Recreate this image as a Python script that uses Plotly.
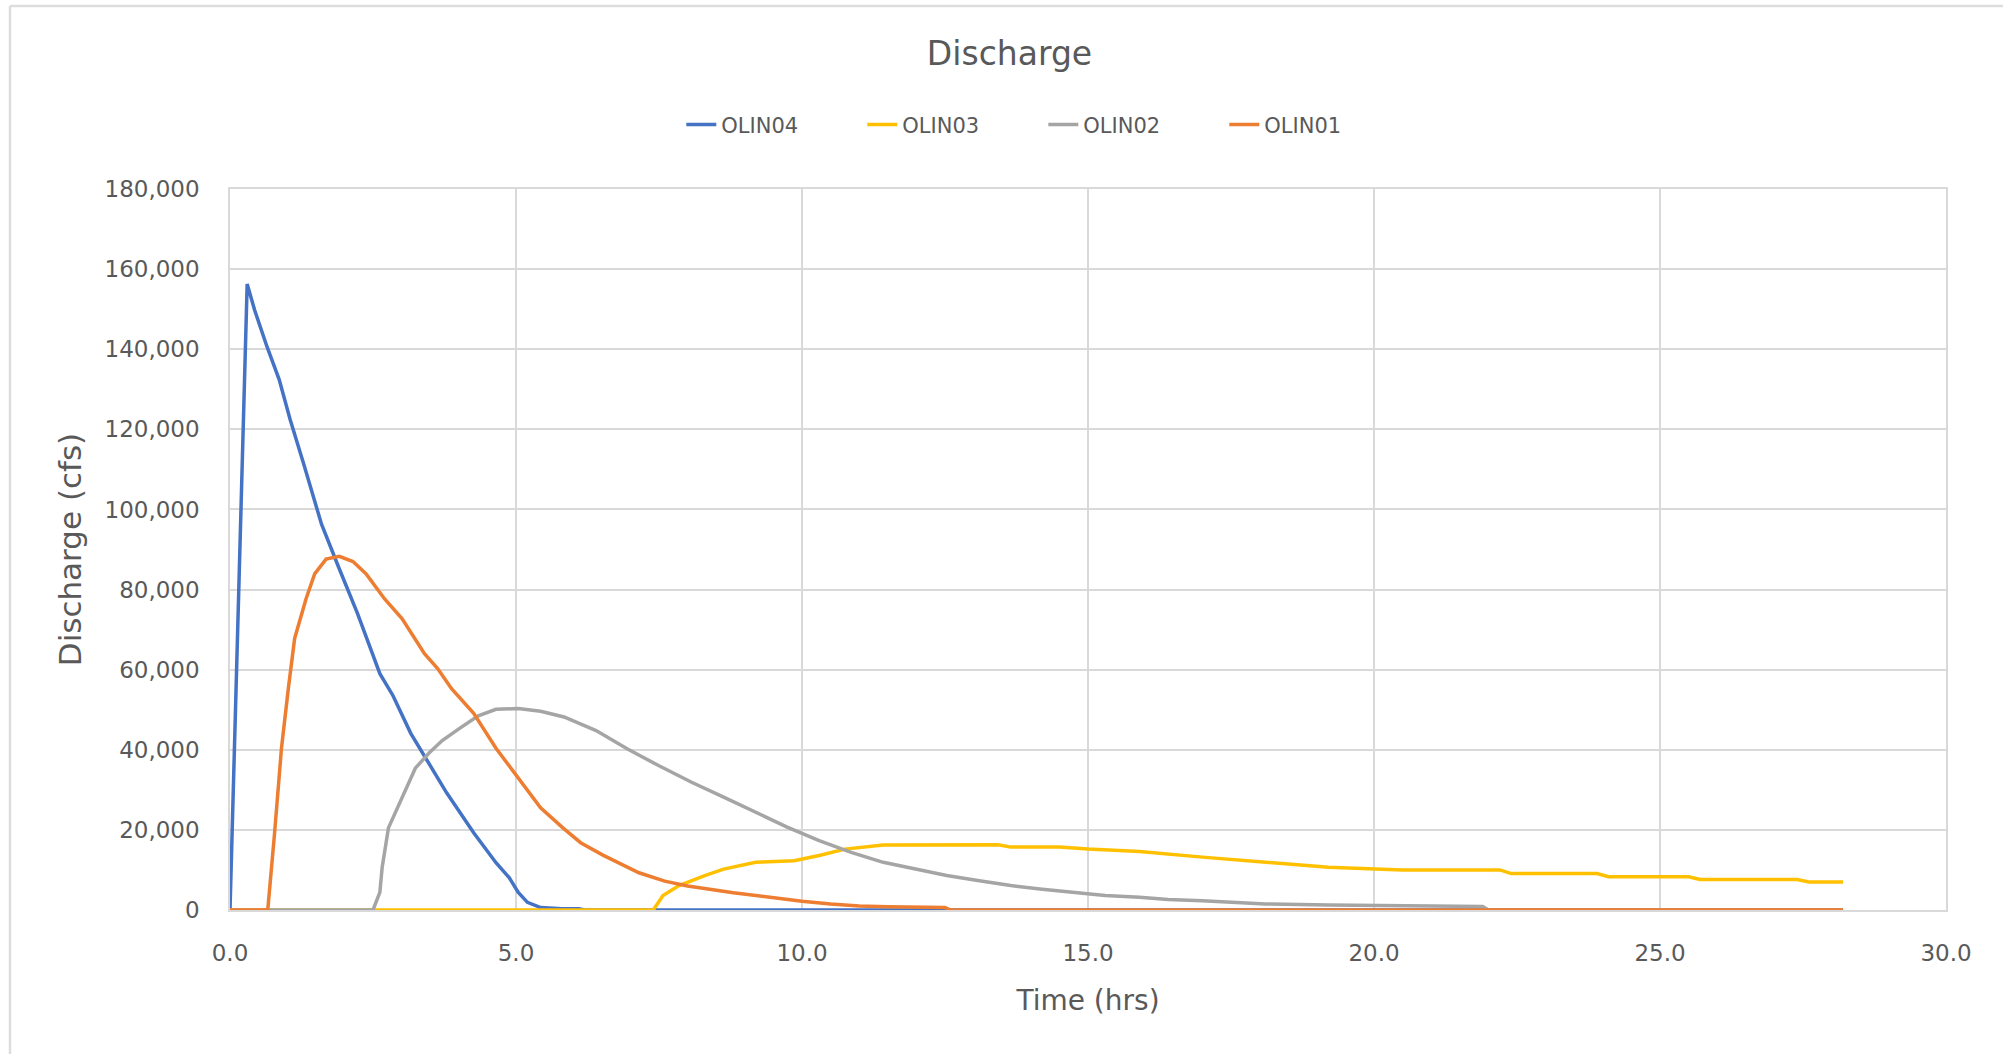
import plotly.graph_objects as go

# ---- data ----
olin04_t = [0, 0.30, 0.43, 0.65, 0.86, 1.05, 1.29, 1.60, 1.91, 2.23, 2.62, 2.85, 3.16, 3.63,
            3.79, 4.26, 4.65, 4.88, 5.04, 5.20, 5.43, 5.80, 6.10, 6.20, 28.2]
olin04_q = [0, 156300, 149800, 140500, 132400, 122500, 111300, 96300, 85200, 74000, 59000,
            53500, 44100, 33000, 29200, 19300, 11800, 8100, 4400, 1900, 600, 300, 300, 0, 0]

olin03_t = [0, 7.40, 7.57, 7.85, 8.30, 8.63, 9.19, 9.86, 10.30, 10.75, 11.42, 12.53, 13.43,
            13.65, 14.50, 15.00, 15.90, 17.00, 18.10, 19.20, 20.50, 22.20, 22.40, 23.90, 24.10,
            25.50, 25.70, 27.40, 27.60, 28.2]
olin03_q = [0, 0, 3600, 6100, 8600, 10200, 11900, 12300, 13600, 15200, 16200, 16300, 16300,
            15700, 15700, 15200, 14600, 13200, 11900, 10700, 10000, 10000, 9100, 9100, 8300,
            8300, 7600, 7600, 7000, 7000]

olin02_t = [0, 2.50, 2.62, 2.66, 2.77, 2.85, 3.05, 3.24, 3.48, 3.71, 4.02, 4.34, 4.65, 5.04,
            5.43, 5.84, 6.40, 6.95, 7.50, 8.07, 8.63, 9.19, 9.74, 10.30, 10.86, 11.42, 11.98,
            12.53, 13.10, 13.65, 14.20, 14.77, 15.30, 15.90, 16.40, 17.00, 18.10, 19.20, 20.30,
            21.90, 22.00, 28.2]
olin02_q = [0, 0, 4400, 10600, 20500, 23000, 29200, 35400, 39200, 42300, 45400, 48500, 50100,
            50300, 49600, 48200, 44800, 40200, 36000, 31900, 28200, 24400, 20700, 17300, 14400,
            11900, 10200, 8600, 7300, 6100, 5200, 4400, 3600, 3200, 2600, 2300, 1500, 1250, 1100,
            900, 0, 0]

olin01_t = [0, 0.66, 0.78, 0.90, 1.02, 1.13, 1.33, 1.48, 1.68, 1.91, 2.15, 2.38, 2.70, 3.01,
            3.40, 3.63, 3.87, 4.26, 4.65, 5.04, 5.43, 5.82, 6.13, 6.52, 7.15, 7.60, 8.00, 8.80,
            9.40, 10.00, 10.50, 11.00, 11.50, 12.50, 12.60, 28.2]
olin01_q = [0, 0, 19300, 40400, 55300, 67800, 77700, 83900, 87600, 88300, 87000, 83900, 77700,
            72700, 64000, 60300, 55300, 49100, 40400, 32900, 25500, 20500, 16800, 13700, 9300,
            7200, 6000, 4300, 3200, 2200, 1500, 1000, 800, 600, 0, 0]

series_names = ["OLIN04", "OLIN03", "OLIN02", "OLIN01"]
series_colors = ["#4472C4", "#FFC000", "#A5A5A5", "#ED7D31"]
series_t = [olin04_t, olin03_t, olin02_t, olin01_t]
series_q = [olin04_q, olin03_q, olin02_q, olin01_q]

x_ticks = [0, 5, 10, 15, 20, 25, 30]
y_ticks = [0, 20000, 40000, 60000, 80000, 100000, 120000, 140000, 160000, 180000]

TXT = "#595959"
GRID = "#D9D9D9"
FONT = "DejaVu Sans"

fig = go.Figure()
for name, color, t, q in zip(series_names, series_colors, series_t, series_q):
    fig.add_trace(go.Scatter(x=t, y=q, mode="lines", name=name,
                             line=dict(color=color, width=3.5)))

W, H = 2003, 1054
PL, PR, PT, PB = 230, 1946, 189, 910

fig.update_layout(
    width=W, height=H, autosize=False,
    margin=dict(l=PL, r=W - PR, t=PT, b=H - PB),
    paper_bgcolor="white", plot_bgcolor="white",
    font=dict(family=FONT, color=TXT),
    title=dict(text="Discharge", x=0.504, xref="container", y=0.949, yref="container",
               xanchor="center", yanchor="middle", font=dict(size=33, color=TXT, family=FONT)),
    legend=dict(orientation="h", x=0.263, y=1.089, xanchor="left", yanchor="middle",
                font=dict(size=21, color=TXT, family=FONT), entrywidth=136,
                bgcolor="rgba(0,0,0,0)"),
    showlegend=True,
)

fig.update_xaxes(
    range=[0, 30], tickvals=x_ticks, tickformat=".1f",
    showgrid=True, gridcolor=GRID, gridwidth=1.5,
    showline=True, linecolor=GRID, linewidth=1.5, mirror=True, zeroline=False,
    ticks="outside", ticklen=22, tickcolor="rgba(0,0,0,0)",
    tickfont=dict(size=23, color=TXT, family=FONT),
    title=dict(text="Time (hrs)", font=dict(size=28, color=TXT, family=FONT), standoff=25),
    automargin=False,
)
fig.update_yaxes(
    range=[0, 180000], tickvals=y_ticks, tickformat=",d",
    showgrid=True, gridcolor=GRID, gridwidth=1.5,
    showline=True, linecolor=GRID, linewidth=1.5, mirror=True, zeroline=False,
    ticks="outside", ticklen=24, tickcolor="rgba(0,0,0,0)",
    tickfont=dict(size=23, color=TXT, family=FONT),
    title=dict(text="Discharge (cfs)", font=dict(size=31, color=TXT, family=FONT), standoff=14),
    automargin=False,
)

# chart-area border (top and left edges visible in the screenshot)
def px_x(p):
    return (p - PL) / (PR - PL)
def px_y(p):
    return (PB - p) / (PB - PT)
fig.add_shape(type="line", xref="paper", yref="paper", x0=px_x(10), x1=px_x(W), y0=px_y(6), y1=px_y(6),
              line=dict(color="#DDDDDD", width=2.5), layer="below")
fig.add_shape(type="line", xref="paper", yref="paper", x0=px_x(10), x1=px_x(10), y0=px_y(6), y1=px_y(H),
              line=dict(color="#DDDDDD", width=2.5), layer="below")

fig.write_html("out.html", config={"displayModeBar": False},
               post_script="document.body.style.margin='0px';")
